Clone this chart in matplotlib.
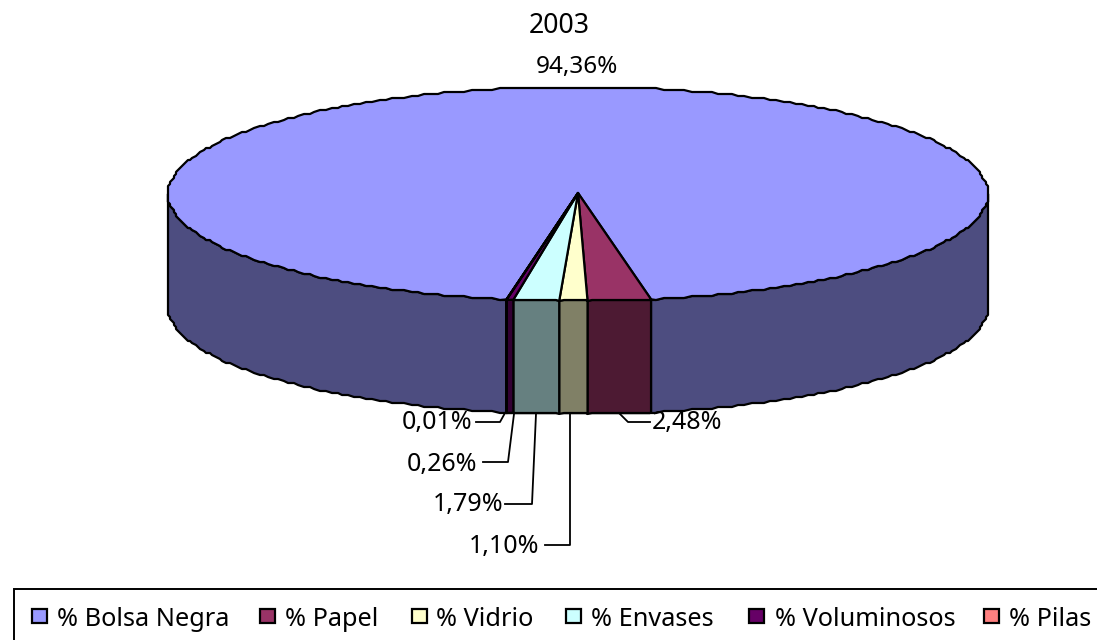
import numpy as np
import matplotlib
matplotlib.use("Agg")
import matplotlib.pyplot as plt
from matplotlib.patches import Polygon, Rectangle

plt.rcParams["font.family"] = ["Noto Sans", "DejaVu Sans"]

title = "2003"
categories = ["% Bolsa Negra", "% Papel", "% Vidrio", "% Envases", "% Voluminosos", "% Pilas"]
values = [94.36, 2.48, 1.10, 1.79, 0.26, 0.01]
value_labels = ["94,36%", "2,48%", "1,10%", "1,79%", "0,26%", "0,01%"]
colors = ["#9999FF", "#993366", "#FFFFCC", "#CCFFFF", "#660066", "#FF8080"]
side_colors = ["#4D4D80", "#4D1A33", "#808066", "#668080", "#330033", "#804040"]

# pie geometry, in pixels
cx, cy = 578, 194
rx, ry = 410, 107
depth = 113
first_angle = 10.26 + 94.36 * 3.6

W = 1097
H = 640
fig = plt.figure(figsize=(W / 100, H / 100), dpi=100)
ax = fig.add_axes([0, 0, 1, 1])
ax.set_xlim(0, W)
ax.set_ylim(H, 0)
ax.axis("off")


def arc(a0, a1, dy=0):
    # sampled on whole degrees and snapped, so the outline wobbles a little
    # like the old renderer and walls and top faces share the same points
    lo, hi = min(a0, a1), max(a0, a1)
    grid = np.arange(np.ceil(lo) + 0.0, np.floor(hi) + 1)
    grid = grid[(grid > lo) & (grid < hi)]
    x = cx + rx * np.sin(np.radians(grid))
    y = cy + ry * np.cos(np.radians(grid))
    x = np.round(x / 2) * 2
    y = np.round(y / 2) * 2
    t0, t1 = np.radians([lo, hi])
    x = np.concatenate([[cx + rx * np.sin(t0)], x, [cx + rx * np.sin(t1)]])
    y = np.concatenate([[cy + ry * np.cos(t0)], y, [cy + ry * np.cos(t1)]]) + dy
    pts = np.column_stack([x, y])
    return pts if a0 < a1 else pts[::-1]


def wall(a0, a1, color):
    pts = np.vstack([arc(a0, a1), arc(a1, a0, depth)])
    ax.add_patch(Polygon(pts, closed=True, fc=color, ec="black", lw=1.6, joinstyle="round"))


# angles run clockwise on screen, so they go down from the first one
edges = first_angle - np.cumsum([0] + values) * 3.6

# side walls first
for i in range(len(values)):
    a0, a1 = edges[i], edges[i + 1]
    if i == 0:
        wall(90, a0 - 360, side_colors[0])
        wall(a1, -90, side_colors[0])
    else:
        wall(a0, a1, side_colors[i])

# top faces
for i in range(len(values)):
    pts = np.vstack([[[cx, cy - 1]], arc(edges[i], edges[i + 1])])
    ax.add_patch(Polygon(pts, closed=True, fc=colors[i], ec="black", lw=1.6, joinstyle="round"))

fs = 18
ax.text(559, 26, title, ha="center", va="center", fontsize=19.2)
ax.text(577, 67, value_labels[0], ha="center", va="center", fontsize=17.5)

# labels with leader lines: start x, elbow, end, text position
leaders = [
    (1, [(620, 414), (628, 422), (650, 422)], 652, 423, "left"),
    (2, [(570, 414), (570, 545), (545, 545)], 539, 546, "right"),
    (3, [(536, 414), (532, 504), (505, 504)], 503, 505, "right"),
    (4, [(514, 414), (508, 462), (483, 462)], 477, 464, "right"),
    (5, [(505, 413), (500, 422), (476, 422)], 472, 423, "right"),
]
for i, line, tx, ty, ha in leaders:
    xs, ys = zip(*line)
    ax.plot(xs, ys, color="black", lw=1.3)
    ax.text(tx, ty, value_labels[i], ha=ha, va="center", fontsize=fs)

# legend runs off the right and bottom of the picture
ax.add_patch(Rectangle((14, 589), W + 20, 80, fc="white", ec="black", lw=1.4))
swatch_x = [32, 260, 412, 566, 749, 984]
text_x = [57, 285, 436, 591, 775, 1009]
for i, name in enumerate(categories):
    ax.add_patch(Rectangle((swatch_x[i], 609), 15, 14, fc=colors[i], ec="black", lw=1.6))
    ax.text(text_x[i], 619, name, ha="left", va="center", fontsize=18.2)

fig.savefig("out.png", dpi=100)
